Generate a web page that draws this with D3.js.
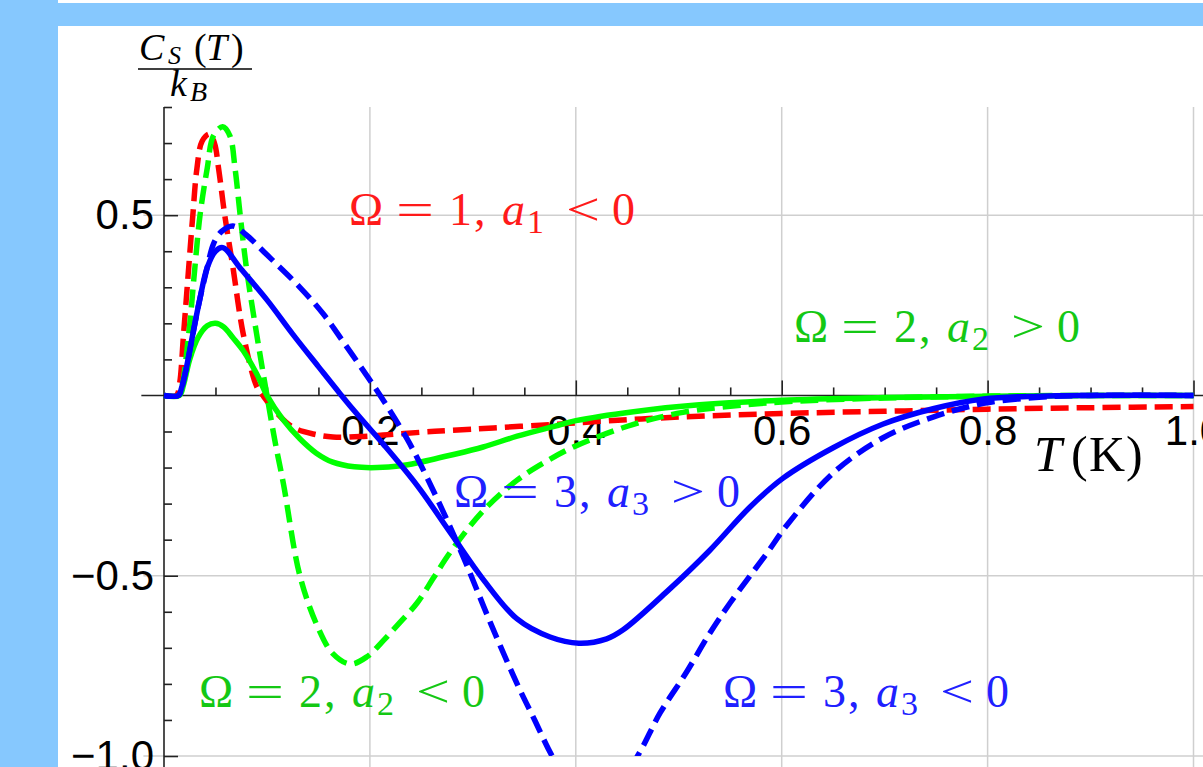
<!DOCTYPE html>
<html>
<head>
<meta charset="utf-8">
<script src="https://cdn.jsdelivr.net/npm/d3@7"></script>
<style>
  html, body { margin: 0; padding: 0; background: #86c8fe; overflow: hidden; }
  svg { display: block; }
</style>
</head>
<body>
<svg id="chart" width="1203" height="767"></svg>
<script>
// ---- axis ticks ----
const tempMajor = [0.2, 0.4, 0.6, 0.8, 1.0];
const tempLabels = ["0.2", "0.4", "0.6", "0.8", "1.0"];
const tempMinor = [0.05, 0.1, 0.15, 0.25, 0.3, 0.35, 0.45, 0.5, 0.55, 0.65, 0.7, 0.75, 0.85, 0.9, 0.95];
const heatMajor = [0.5, -0.5, -1.0];
const heatLabels = ["0.5", "\u22120.5", "\u22121.0"];
const heatMinor = [0.8, 0.7, 0.6, 0.4, 0.3, 0.2, 0.1, -0.1, -0.2, -0.3, -0.4, -0.6, -0.7, -0.8, -0.9];

// ---- series: [T (K), C_S/k_B] ----
const omega1Neg = [[0,0],[0.012,0],[0.015,0.03],[0.019,0.17],[0.024,0.355],[0.028,0.5],[0.032,0.63],[0.037,0.705],
  [0.044,0.725],[0.049,0.7],[0.053,0.63],[0.059,0.5],[0.067,0.355],[0.077,0.17],[0.09,0.025],[0.096,0],
  [0.11,-0.05],[0.125,-0.088],[0.145,-0.107],[0.164,-0.115],[0.19,-0.114],[0.213,-0.11],[0.25,-0.102],
  [0.278,-0.097],[0.32,-0.09],[0.38,-0.08],[0.4,-0.076],[0.5,-0.06],[0.6,-0.05],[0.7,-0.044],[0.8,-0.038],
  [0.9,-0.034],[1.0,-0.031]];

const omega2Neg = [[0,0],[0.014,0],[0.017,0.02],[0.024,0.17],[0.03,0.355],[0.035,0.5],[0.042,0.63],[0.048,0.72],
  [0.057,0.745],[0.064,0.72],[0.069,0.63],[0.074,0.5],[0.08,0.355],[0.09,0.17],[0.1,0],[0.108,-0.13],
  [0.116,-0.245],[0.132,-0.5],[0.149,-0.64],[0.164,-0.716],[0.181,-0.745],[0.197,-0.725],[0.213,-0.68],
  [0.229,-0.63],[0.246,-0.575],[0.262,-0.505],[0.278,-0.435],[0.31,-0.32],[0.343,-0.235],[0.37,-0.185],
  [0.4,-0.14],[0.456,-0.08],[0.504,-0.047],[0.55,-0.03],[0.6,-0.018],[0.7,-0.007],[0.8,-0.002],[0.9,0],[1.0,0]];

const omega2Pos = [[0,0],[0.015,0],[0.019,0.03],[0.025,0.1],[0.033,0.16],[0.042,0.193],[0.05,0.2],[0.058,0.19],
  [0.067,0.16],[0.077,0.124],[0.09,0.06],[0.1,0],[0.115,-0.065],[0.132,-0.12],[0.148,-0.16],[0.164,-0.185],
  [0.185,-0.198],[0.207,-0.2],[0.23,-0.195],[0.246,-0.187],[0.278,-0.166],[0.31,-0.143],[0.343,-0.113],
  [0.38,-0.085],[0.4,-0.07],[0.456,-0.045],[0.52,-0.026],[0.6,-0.013],[0.7,-0.006],[0.8,-0.002],[0.9,0],[1.0,0]];

const omega3Neg = [[0,0],[0.014,0],[0.017,0.02],[0.022,0.08],[0.028,0.17],[0.035,0.27],[0.042,0.355],[0.048,0.42],
  [0.056,0.455],[0.067,0.47],[0.08,0.445],[0.1,0.39],[0.132,0.3],[0.155,0.225],[0.175,0.145],[0.197,0.055],
  [0.21,0],[0.236,-0.12],[0.255,-0.225],[0.278,-0.365],[0.294,-0.47],[0.317,-0.63],[0.343,-0.8],[0.36,-0.9],
  [0.377,-1.0],[0.395,-1.08],[0.418,-1.12],[0.44,-1.08],[0.46,-1.0],[0.482,-0.88],[0.507,-0.77],[0.53,-0.66],
  [0.55,-0.575],[0.585,-0.44],[0.605,-0.36],[0.65,-0.215],[0.698,-0.118],[0.747,-0.06],[0.796,-0.022],
  [0.85,-0.005],[0.9,0],[1.0,0]];

const omega3Pos = [[0,0],[0.014,0],[0.017,0.02],[0.022,0.08],[0.028,0.17],[0.035,0.27],[0.042,0.355],[0.05,0.4],
  [0.057,0.41],[0.075,0.35],[0.1,0.265],[0.125,0.17],[0.15,0.08],[0.171,0.005],[0.19,-0.06],[0.213,-0.135],
  [0.246,-0.25],[0.278,-0.38],[0.31,-0.51],[0.343,-0.62],[0.375,-0.67],[0.403,-0.687],[0.43,-0.675],
  [0.446,-0.65],[0.49,-0.54],[0.53,-0.43],[0.569,-0.31],[0.601,-0.23],[0.65,-0.145],[0.698,-0.08],
  [0.747,-0.037],[0.796,-0.01],[0.85,-0.002],[0.9,0],[1.0,0]];

const W = 1203, H = 767;
const svg = d3.select("#chart");

// page frame
svg.append("rect").attr("width", W).attr("height", H).attr("fill", "#86c8fe");
svg.append("rect").attr("x", 58).attr("y", 0).attr("width", W - 58).attr("height", 3).attr("fill", "#fff");
svg.append("rect").attr("x", 58).attr("y", 26).attr("width", W - 58).attr("height", H - 26).attr("fill", "#fff");

const x = d3.scaleLinear().domain([0, 1]).range([164, 1193.5]);
const y = d3.scaleLinear().domain([-1, 0.8]).range([756, 107]);

const gridColor = "#cfcfcf";
// grid
svg.append("g").selectAll("line").data(tempMajor).join("line")
  .attr("x1", d => x(d)).attr("x2", d => x(d))
  .attr("y1", y(0.8)).attr("y2", H)
  .attr("stroke", gridColor).attr("stroke-width", 1.5);
svg.append("g").selectAll("line").data(heatMajor).join("line")
  .attr("x1", x(-0.02)).attr("x2", W)
  .attr("y1", d => y(d)).attr("y2", d => y(d))
  .attr("stroke", gridColor).attr("stroke-width", 1.5);

// axis lines
svg.append("line").attr("x1", x(-0.022)).attr("x2", W).attr("y1", y(0)).attr("y2", y(0))
  .attr("stroke", "#222").attr("stroke-width", 1.6);
svg.append("line").attr("x1", x(0)).attr("x2", x(0)).attr("y1", y(0.8)).attr("y2", H)
  .attr("stroke", "#222").attr("stroke-width", 1.6);

const tickFont = "'Liberation Sans', Arial, sans-serif";
function styleAxis(g) {
  g.select(".domain").remove();
  g.selectAll(".tick line").attr("stroke", "#222").attr("stroke-width", 1.6);
  g.selectAll(".tick text").attr("fill", "#000").style("font-family", tickFont).style("font-size", "42px");
}

svg.append("g").attr("transform", `translate(0,${y(0)})`)
  .call(d3.axisBottom(x).tickValues(tempMajor).tickSizeInner(-15).tickSizeOuter(0).tickPadding(20)
    .tickFormat((d, i) => tempLabels[i]))
  .call(styleAxis);
svg.append("g").attr("transform", `translate(0,${y(0)})`)
  .call(d3.axisBottom(x).tickValues(tempMinor).tickSizeInner(-8).tickSizeOuter(0).tickFormat(""))
  .call(styleAxis);
svg.append("g").attr("transform", `translate(${x(0)},0)`)
  .call(d3.axisLeft(y).tickValues(heatMajor).tickSizeInner(-14).tickSizeOuter(0).tickPadding(10)
    .tickFormat((d, i) => heatLabels[i]))
  .call(styleAxis);
svg.append("g").attr("transform", `translate(${x(0)},0)`)
  .call(d3.axisLeft(y).tickValues(heatMinor).tickSizeInner(-8).tickSizeOuter(0).tickFormat(""))
  .call(styleAxis);

// curves
svg.append("clipPath").attr("id", "plotClip")
  .append("rect").attr("x", 0).attr("y", 0).attr("width", W).attr("height", y(-1));

const line = d3.line().x(d => x(d[0])).y(d => y(d[1])).curve(d3.curveCatmullRom.alpha(0.5));
const curves = [
  { data: omega1Neg, color: "#ff0000", dash: "18,8" },
  { data: omega2Neg, color: "#00ff00", dash: "18,8" },
  { data: omega2Pos, color: "#00ff00", dash: null },
  { data: omega3Neg, color: "#0000ff", dash: "18,8" },
  { data: omega3Pos, color: "#0000ff", dash: null }
];
svg.append("g").attr("clip-path", "url(#plotClip)")
  .selectAll("path").data(curves).join("path")
  .attr("d", d => line(d.data))
  .attr("fill", "none")
  .attr("stroke", d => d.color)
  .attr("stroke-width", 5.5)
  .attr("stroke-linejoin", "round")
  .attr("stroke-dasharray", d => d.dash);

// axis titles
const serif = "'Liberation Serif', 'Times New Roman', serif";
const yTitle = svg.append("text").style("font-family", serif).attr("fill", "#000");
yTitle.append("tspan").attr("x", 139).attr("y", 60).style("font-size", "38px").style("font-style", "italic").text("C");
yTitle.append("tspan").attr("x", 168).attr("y", 64).style("font-size", "26px").style("font-style", "italic").text("S");
yTitle.append("tspan").attr("x", 194).attr("y", 60).style("font-size", "38px").text("(");
yTitle.append("tspan").attr("x", 206).attr("y", 60).style("font-size", "38px").style("font-style", "italic").text("T");
yTitle.append("tspan").attr("x", 231).attr("y", 60).style("font-size", "38px").text(")");
svg.append("line").attr("x1", 138).attr("x2", 252).attr("y1", 69).attr("y2", 69)
  .attr("stroke", "#000").attr("stroke-width", 1.6);
const yDen = svg.append("text").style("font-family", serif).attr("fill", "#000");
yDen.append("tspan").attr("x", 170).attr("y", 96).style("font-size", "38px").style("font-style", "italic").text("k");
yDen.append("tspan").attr("x", 190).attr("y", 101).style("font-size", "28px").style("font-style", "italic").text("B");

const xTitle = svg.append("text").style("font-family", serif).attr("fill", "#000").style("font-size", "50px");
xTitle.append("tspan").attr("x", 1034).attr("y", 471).style("font-style", "italic").text("T");
xTitle.append("tspan").attr("x", 1071).attr("y", 471).text("(");
xTitle.append("tspan").attr("x", 1089).attr("y", 471).text("K");
xTitle.append("tspan").attr("x", 1126).attr("y", 471).text(")");

// series annotations
const annotations = [
  { x0: 350, y0: 225, omega: "1", rel: "<", color: "#ff1a1a" },
  { x0: 795, y0: 342, omega: "2", rel: ">", color: "#14c814" },
  { x0: 455, y0: 507, omega: "3", rel: ">", color: "#2020ff" },
  { x0: 200, y0: 707, omega: "2", rel: "<", color: "#14c814" },
  { x0: 724, y0: 707, omega: "3", rel: "<", color: "#2020ff" }
];
annotations.forEach(a => {
  const g = svg.append("g").style("font-family", serif).style("font-size", "46px").attr("fill", a.color);
  g.append("text").attr("x", a.x0 - 1).attr("y", a.y0).text("\u03A9");
  g.append("text").attr("x", a.x0 + 46).attr("y", a.y0)
    .attr("textLength", 38).attr("lengthAdjust", "spacingAndGlyphs").text("=");
  g.append("text").attr("x", a.x0 + 99).attr("y", a.y0).text(a.omega);
  g.append("text").attr("x", a.x0 + 124).attr("y", a.y0).text(",");
  g.append("text").attr("x", a.x0 + 152).attr("y", a.y0).style("font-style", "italic").text("a");
  g.append("text").attr("x", a.x0 + 177).attr("y", a.y0 + 8).style("font-size", "34px").text(a.omega);
  g.append("text").attr("x", a.x0 + 216).attr("y", a.y0)
    .attr("textLength", 34).attr("lengthAdjust", "spacingAndGlyphs").text(a.rel);
  g.append("text").attr("x", a.x0 + 262).attr("y", a.y0).text("0");
});
</script>
</body>
</html>
